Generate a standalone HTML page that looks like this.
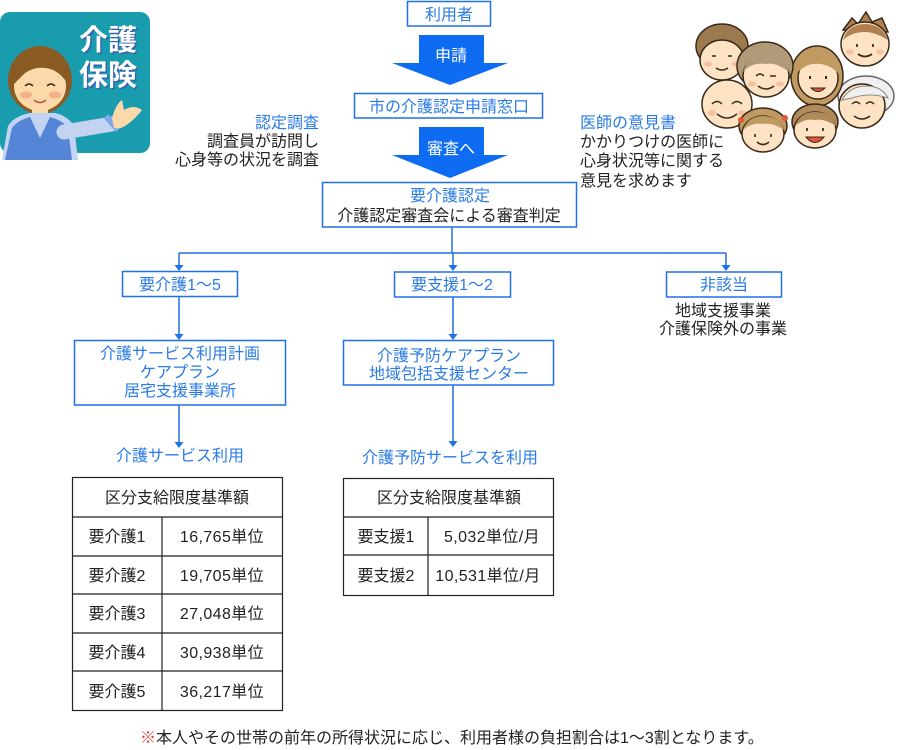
<!DOCTYPE html>
<html><head><meta charset="utf-8"><style>
html,body{margin:0;padding:0;background:#fff;}
svg{display:block;}
text{font-family:"Liberation Sans","Noto Sans CJK JP",sans-serif;font-size:16px;}
.b{fill:#2a7be6}.k{fill:#222}.w{fill:#fff}.c{text-anchor:middle}.e{text-anchor:end}
.bx{fill:#fff;stroke:#1f6fe8;stroke-width:1.5}
.ln{stroke:#1f6fe8;stroke-width:1.5;fill:none}
.ah{fill:#1f6fe8}
.tb{fill:#fff;stroke:#222;stroke-width:1.2}
.tl{stroke:#222;stroke-width:1.2}
.sk{fill:#fde2c4;stroke:#3a2a1a;stroke-width:1.5}
.ck{fill:#f8c0a0}
.num{letter-spacing:0.4px}
</style></head><body>
<svg width="900" height="750" viewBox="0 0 900 750" xmlns="http://www.w3.org/2000/svg">

<!-- Left illustration -->
<rect x="0" y="12" width="150" height="141" rx="10" fill="#1a9caf"/>
<ellipse cx="40" cy="80" rx="32" ry="34" fill="#8a5a24"/>
<rect x="32" y="105" width="16" height="14" fill="#fbd9a8"/>
<path d="M2,160 L8,126 Q14,116 30,113 L55,113 Q68,116 74,126 L78,160 Z" fill="#c3d3f2"/>
<path d="M5,160 L12,128 Q18,120 30,117 L40,138 L50,117 Q62,120 68,128 L72,160 Z" fill="#5585d6"/>
<path d="M64,132 L112,124" stroke="#c3d3f2" stroke-width="15" stroke-linecap="round"/>
<path d="M106,116 L118,130" stroke="#7fa6e8" stroke-width="6"/>
<path d="M112,118 Q116,104 122,100 L124,110 Q134,104 142,110 Q136,118 128,124 Q120,130 114,128 Z" fill="#fbd9a8"/>
<ellipse cx="40" cy="86" rx="26" ry="25" fill="#fbd9a8"/>
<path d="M12,86 Q14,56 40,54 Q68,56 69,86 Q60,70 46,68 Q30,66 20,78 Z" fill="#8a5a24"/>
<path d="M25,86 Q29,82 33,86 M47,86 Q51,82 55,86" stroke="#3a2a1a" stroke-width="1.5" fill="none"/>
<ellipse cx="26" cy="95" rx="6" ry="3.5" fill="#f6b08a"/>
<ellipse cx="55" cy="95" rx="6" ry="3.5" fill="#f6b08a"/>
<path d="M34,100 Q40,105 46,100" stroke="#c0504a" stroke-width="1.5" fill="none"/>
<text x="109.5" y="51.5" class="c" style="font-size:29px;font-weight:bold;fill:#3a5fb0">介護</text>
<text x="108" y="50" class="c w" style="font-size:29px;font-weight:bold">介護</text>
<text x="109.5" y="86.5" class="c" style="font-size:29px;font-weight:bold;fill:#3a5fb0">保険</text>
<text x="108" y="85" class="c w" style="font-size:29px;font-weight:bold">保険</text>

<!-- Family illustration -->
<g>
<!-- 1 man top-left -->
<ellipse cx="722" cy="46" rx="26" ry="22" fill="#9b7a50" stroke="#3a2a1a" stroke-width="1.5"/>
<ellipse cx="722" cy="60" rx="22" ry="20" class="sk"/>
<path d="M712,56 L716,56 M728,56 L732,56 M716,68 Q722,72 728,68" stroke="#3a2a1a" stroke-width="1.5" fill="none"/>
<ellipse cx="708" cy="64" rx="4" ry="2.5" class="ck"/><ellipse cx="736" cy="64" rx="4" ry="2.5" class="ck"/>
<!-- 4 boy top-right -->
<path d="M843,30 L852,18 L858,24 L866,12 L872,22 L882,18 L888,32 Z" fill="#b08050" stroke="#3a2a1a" stroke-width="1.5"/>
<ellipse cx="865" cy="44" rx="24" ry="22" class="sk"/>
<path d="M843,40 Q848,24 865,24 Q882,24 888,40 Q875,32 865,32 Q852,32 843,40 Z" fill="#b08050"/>
<path d="M857,44 L857,47 M873,44 L873,47 M858,54 Q865,59 872,54" stroke="#3a2a1a" stroke-width="1.8" fill="none"/>
<ellipse cx="850" cy="52" rx="4" ry="2.5" class="ck"/><ellipse cx="880" cy="52" rx="4" ry="2.5" class="ck"/>
<!-- 5 bald old man -->
<ellipse cx="727" cy="104" rx="25" ry="24" class="sk"/>
<path d="M712,104 Q717,99 722,104 M732,104 Q737,99 742,104 M717,114 Q727,122 737,114" stroke="#3a2a1a" stroke-width="1.5" fill="none"/>
<ellipse cx="712" cy="113" rx="4" ry="3" class="ck"/><ellipse cx="742" cy="113" rx="4" ry="3" class="ck"/>
<!-- 6 old woman white hair -->
<ellipse cx="866" cy="96" rx="28" ry="20" fill="#f0f0f0" stroke="#666" stroke-width="1.5"/>
<ellipse cx="862" cy="106" rx="23" ry="22" class="sk"/>
<path d="M842,100 Q850,86 866,86 Q882,86 888,98 Q870,92 852,98 Z" fill="#f0f0f0" stroke="#888" stroke-width="1"/>
<path d="M852,104 Q856,100 860,104 M866,104 Q870,100 874,104 M854,116 Q862,122 870,116" stroke="#3a2a1a" stroke-width="1.5" fill="none"/>
<!-- 3 young woman -->
<ellipse cx="817" cy="76" rx="26" ry="30" fill="#c09a60" stroke="#3a2a1a" stroke-width="1.5"/>
<ellipse cx="818" cy="78" rx="20" ry="21" class="sk"/>
<path d="M798,72 Q802,55 818,54 Q836,55 839,74 Q828,62 812,64 Q804,66 798,72 Z" fill="#c09a60"/>
<path d="M810,76 L810,79 M826,76 L826,79" stroke="#3a2a1a" stroke-width="2"/>
<path d="M811,88 Q818,95 825,88 Z" fill="#e2563a" stroke="#3a2a1a" stroke-width="1"/>
<!-- 2 woman grey-brown hair -->
<ellipse cx="765" cy="66" rx="28" ry="24" fill="#b09a7a" stroke="#3a2a1a" stroke-width="1.5"/>
<ellipse cx="766" cy="76" rx="23" ry="21" class="sk"/>
<path d="M743,72 Q748,54 766,54 Q786,54 789,72 Q776,62 766,64 Q752,62 743,72 Z" fill="#b09a7a"/>
<path d="M756,76 Q760,72 764,76 M770,76 L776,76 M758,86 Q766,92 774,86" stroke="#3a2a1a" stroke-width="1.5" fill="none"/>
<ellipse cx="752" cy="84" rx="4" ry="2.5" class="ck"/><ellipse cx="780" cy="84" rx="4" ry="2.5" class="ck"/>
<!-- 7 girl -->
<ellipse cx="763" cy="126" rx="24" ry="18" fill="#c09a60" stroke="#3a2a1a" stroke-width="1.5"/>
<circle cx="741" cy="120" r="3" fill="#e2563a"/><circle cx="785" cy="118" r="3" fill="#e2563a"/>
<ellipse cx="763" cy="134" rx="21" ry="18" class="sk"/>
<path d="M743,130 Q748,116 763,116 Q780,116 784,130 Q772,122 763,124 Q752,122 743,130 Z" fill="#c09a60"/>
<path d="M755,134 L755,137 M771,134 L771,137 M757,142 Q763,147 769,142" stroke="#3a2a1a" stroke-width="1.6" fill="none"/>
<!-- 8 boy -->
<ellipse cx="815" cy="122" rx="23" ry="18" fill="#b08a5a" stroke="#3a2a1a" stroke-width="1.5"/>
<ellipse cx="815" cy="130" rx="21" ry="18" class="sk"/>
<path d="M795,126 Q800,112 815,112 Q832,112 836,126 Q824,118 815,120 Q804,118 795,126 Z" fill="#b08a5a"/>
<path d="M807,128 L807,131 M823,128 L823,131" stroke="#3a2a1a" stroke-width="1.8"/>
<path d="M806,137 Q815,148 824,137 Z" fill="#e2563a" stroke="#3a2a1a" stroke-width="1"/>
</g>

<!-- Top flow -->
<rect x="407.5" y="1.5" width="83" height="24.5" class="bx"/>
<text x="449" y="20" class="c b">利用者</text>

<polygon points="419,35 484,35 484,63 508,63 450,85 392,63 419,63" fill="#0d6cf2"/>
<text x="451" y="61" class="c w">申請</text>

<rect x="354.5" y="93.5" width="188" height="24.5" class="bx"/>
<text x="449" y="112" class="c b">市の介護認定申請窓口</text>

<polygon points="419,127 484,127 484,155 508,155 450,178 392,155 419,155" fill="#0d6cf2"/>
<text x="451" y="154" class="c w">審査へ</text>

<rect x="322.5" y="182.5" width="254" height="44.5" class="bx"/>
<text x="450" y="201" class="c b">要介護認定</text>
<text x="449" y="221" class="c k">介護認定審査会による審査判定</text>

<!-- Side notes -->
<text x="319" y="128" class="e b">認定調査</text>
<text x="319" y="146.5" class="e k">調査員が訪問し</text>
<text x="319" y="165" class="e k">心身等の状況を調査</text>

<text x="580" y="128" class="b">医師の意見書</text>
<text x="580" y="147" class="k">かかりつけの医師に</text>
<text x="580" y="166" class="k">心身状況等に関する</text>
<text x="580" y="186" class="k">意見を求めます</text>

<!-- Connectors -->
<line x1="452" y1="227" x2="452" y2="253" class="ln"/>
<line x1="179" y1="253" x2="726" y2="253" class="ln"/>
<line x1="179" y1="253" x2="179" y2="266" class="ln"/>
<polygon points="174.5,265 183.5,265 179,271" class="ah"/>
<line x1="453" y1="253" x2="453" y2="266" class="ln"/>
<polygon points="448.5,265 457.5,265 453,271" class="ah"/>
<line x1="726" y1="253" x2="726" y2="266" class="ln"/>
<polygon points="721.5,265 730.5,265 726,271" class="ah"/>

<rect x="122.5" y="271.5" width="115" height="25" class="bx"/>
<text x="180" y="290" class="c b">要介護1～5</text>
<rect x="394.5" y="272" width="116" height="25" class="bx"/>
<text x="452" y="290" class="c b">要支援1～2</text>
<rect x="666.5" y="272" width="115" height="25" class="bx"/>
<text x="724" y="290" class="c b">非該当</text>
<text x="723" y="316" class="c k">地域支援事業</text>
<text x="723" y="334" class="c k">介護保険外の事業</text>

<line x1="179" y1="297" x2="179" y2="335" class="ln"/>
<polygon points="174.5,334 183.5,334 179,340" class="ah"/>
<rect x="74.5" y="340.5" width="211" height="64.5" class="bx"/>
<text x="180" y="359" class="c b">介護サービス利用計画</text>
<text x="180" y="377.5" class="c b">ケアプラン</text>
<text x="180" y="396" class="c b">居宅支援事業所</text>
<line x1="179" y1="405" x2="179" y2="443" class="ln"/>
<polygon points="174.5,442 183.5,442 179,448" class="ah"/>
<text x="180" y="461" class="c b">介護サービス利用</text>

<line x1="453" y1="297" x2="453" y2="335" class="ln"/>
<polygon points="448.5,334 457.5,334 453,340" class="ah"/>
<rect x="343.5" y="340.5" width="210" height="44.5" class="bx"/>
<text x="449" y="361" class="c b">介護予防ケアプラン</text>
<text x="449" y="379" class="c b">地域包括支援センター</text>
<line x1="453" y1="385" x2="453" y2="442" class="ln"/>
<polygon points="448.5,441 457.5,441 453,447" class="ah"/>
<text x="450" y="463" class="c b">介護予防サービスを利用</text>

<!-- Left table -->
<rect x="72.5" y="477.5" width="210" height="233" class="tb"/>
<line x1="72.5" y1="517" x2="282.5" y2="517" class="tl"/>
<line x1="72.5" y1="556" x2="282.5" y2="556" class="tl"/>
<line x1="72.5" y1="594" x2="282.5" y2="594" class="tl"/>
<line x1="72.5" y1="633" x2="282.5" y2="633" class="tl"/>
<line x1="72.5" y1="671" x2="282.5" y2="671" class="tl"/>
<line x1="162" y1="517" x2="162" y2="710.5" class="tl"/>
<text x="177" y="503" class="c k">区分支給限度基準額</text>
<text x="117" y="542" class="c k">要介護1</text><text x="222" y="542" class="c k num">16,765単位</text>
<text x="117" y="581" class="c k">要介護2</text><text x="222" y="581" class="c k num">19,705単位</text>
<text x="117" y="619" class="c k">要介護3</text><text x="222" y="619" class="c k num">27,048単位</text>
<text x="117" y="658" class="c k">要介護4</text><text x="222" y="658" class="c k num">30,938単位</text>
<text x="117" y="697" class="c k">要介護5</text><text x="222" y="697" class="c k num">36,217単位</text>

<!-- Right table -->
<rect x="343.5" y="478.5" width="210" height="117" class="tb"/>
<line x1="343.5" y1="517" x2="553.5" y2="517" class="tl"/>
<line x1="343.5" y1="555" x2="553.5" y2="555" class="tl"/>
<line x1="428" y1="517" x2="428" y2="595.5" class="tl"/>
<text x="449" y="503" class="c k">区分支給限度基準額</text>
<text x="386" y="542" class="c k">要支援1</text><text x="492" y="542" class="c k num">5,032単位/月</text>
<text x="386" y="581" class="c k">要支援2</text><text x="488" y="581" class="c k num">10,531単位/月</text>

<!-- Footnote -->
<text x="140" y="743" class="k"><tspan style="fill:#e83a3a">※</tspan>本人やその世帯の前年の所得状況に応じ、利用者様の負担割合は1～3割となります。</text>
</svg>
</body></html>
